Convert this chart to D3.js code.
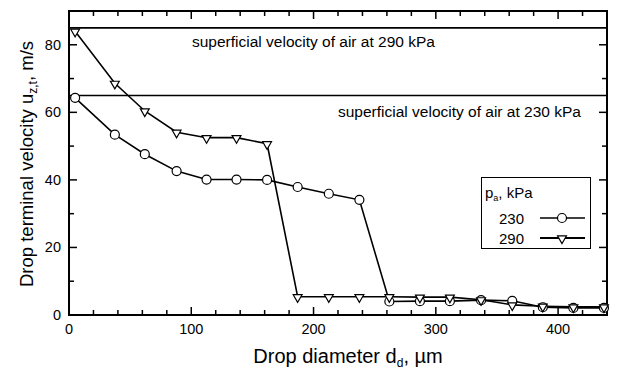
<!DOCTYPE html>
<html>
<head>
<meta charset="utf-8">
<script src="https://cdn.jsdelivr.net/npm/d3@7"></script>
<style>
  html, body { margin: 0; padding: 0; background: #fff; }
  svg { display: block; font-family: "Liberation Sans", Arial, Helvetica, sans-serif; }
</style>
</head>
<body>
<svg id="chart" width="618" height="371"></svg>
<script>
// Drop diameters (µm) at which terminal velocity was evaluated
const diameters = [5, 37.5, 62, 88, 112.5, 137, 162, 187, 212.5, 237.5, 262, 287, 311.5, 337, 362.5, 387.5, 412.5, 437.5];
// Terminal velocity (m/s) at air pressure 230 kPa
const velocity230 = [64.3, 53.4, 47.6, 42.6, 40.1, 40.1, 40.0, 37.9, 35.9, 34.1, 4.0, 4.1, 4.1, 4.4, 4.2, 2.3, 2.1, 2.1];
// Terminal velocity (m/s) at air pressure 290 kPa
const velocity290 = [84.0, 68.6, 60.4, 54.1, 52.5, 52.5, 50.7, 5.4, 5.4, 5.4, 5.4, 5.3, 5.3, 4.5, 3.0, 2.6, 2.4, 2.4];
// Superficial air velocity levels (m/s)
const airVelocity = [
  { p: 290, v: 85, label: "superficial velocity of air at 290 kPa" },
  { p: 230, v: 65, label: "superficial velocity of air at 230 kPa" }
];
const xTicks = [0, 100, 200, 300, 400];
const yTicks = [0, 20, 40, 60, 80];

const svg = d3.select("#chart");
const m = { left: 69, right: 607, top: 11, bottom: 315 };

const x = d3.scaleLinear().domain([0, 440]).range([m.left, m.right]);
const y = d3.scaleLinear().domain([0, 90]).range([m.bottom, m.top]);

const g = svg.append("g");

// Frame
g.append("rect")
  .attr("x", m.left).attr("y", m.top)
  .attr("width", m.right - m.left).attr("height", m.bottom - m.top)
  .attr("fill", "none").attr("stroke", "#000").attr("stroke-width", 2);

// Inward ticks on all four sides
const xMinor = d3.range(0, 441, 20);
const yMinor = d3.range(0, 91, 10);
function tickLen(v, majors) { return majors.includes(v) ? 8 : 5; }

xMinor.forEach(v => {
  const L = tickLen(v, xTicks);
  g.append("line").attr("x1", x(v)).attr("x2", x(v)).attr("y1", m.bottom).attr("y2", m.bottom - L)
    .attr("stroke", "#000").attr("stroke-width", 1.5);
  g.append("line").attr("x1", x(v)).attr("x2", x(v)).attr("y1", m.top).attr("y2", m.top + L)
    .attr("stroke", "#000").attr("stroke-width", 1.5);
});
yMinor.forEach(v => {
  const L = tickLen(v, yTicks);
  g.append("line").attr("x1", m.left).attr("x2", m.left + L).attr("y1", y(v)).attr("y2", y(v))
    .attr("stroke", "#000").attr("stroke-width", 1.5);
  g.append("line").attr("x1", m.right).attr("x2", m.right - L).attr("y1", y(v)).attr("y2", y(v))
    .attr("stroke", "#000").attr("stroke-width", 1.5);
});

// Tick labels
g.selectAll(".xl").data(xTicks).join("text")
  .attr("x", d => x(d)).attr("y", 334)
  .attr("text-anchor", "middle").attr("font-size", 14.5).text(d => d);
g.selectAll(".yl").data(yTicks).join("text")
  .attr("x", 61).attr("y", d => y(d) + 5)
  .attr("text-anchor", "end").attr("font-size", 14.5).text(d => d);

// Superficial air velocity lines
airVelocity.forEach(a => {
  g.append("line").attr("x1", m.left).attr("x2", m.right)
    .attr("y1", y(a.v)).attr("y2", y(a.v))
    .attr("stroke", "#000").attr("stroke-width", 1.6);
});
g.append("text").attr("x", 192).attr("y", 47).attr("font-size", 15.5).text(airVelocity[0].label);
g.append("text").attr("x", 338).attr("y", 117).attr("font-size", 15.5).text(airVelocity[1].label);

// Data series
const line = d3.line().x(d => x(d[0])).y(d => y(d[1]));
const s230 = diameters.map((d, i) => [d, velocity230[i]]);
const s290 = diameters.map((d, i) => [d, velocity290[i]]);

g.append("path").datum(s230).attr("d", line)
  .attr("fill", "none").attr("stroke", "#000").attr("stroke-width", 1.6);
g.append("path").datum(s290).attr("d", line)
  .attr("fill", "none").attr("stroke", "#000").attr("stroke-width", 1.6);

const tri = d3.symbol().type(d3.symbolTriangle).size(34);
function circleMarks(sel, data) {
  sel.selectAll(null).data(data).join("circle")
    .attr("cx", d => x(d[0])).attr("cy", d => y(d[1])).attr("r", 4.5)
    .attr("fill", "#fff").attr("stroke", "#000").attr("stroke-width", 1.2);
}
function triMarks(sel, data) {
  sel.selectAll(null).data(data).join("path")
    .attr("d", tri)
    .attr("transform", d => `translate(${x(d[0])},${y(d[1]) + 0.5}) rotate(180)`)
    .attr("fill", "#fff").attr("stroke", "#000").attr("stroke-width", 1.2);
}
circleMarks(g.append("g"), s230);
triMarks(g.append("g"), s290);

// Legend
const lg = g.append("g");
lg.append("rect").attr("x", 481.5).attr("y", 177.5).attr("width", 109).attr("height", 71)
  .attr("fill", "#fff").attr("stroke", "#000").attr("stroke-width", 1);
const lt = lg.append("text").attr("x", 485).attr("y", 198).attr("font-size", 15);
lt.append("tspan").text("p");
lt.append("tspan").attr("font-size", 9).attr("dy", 3).text("a");
lt.append("tspan").attr("dy", -3).text(", kPa");
const legendRows = [
  { label: "230", y: 218, kind: "circle" },
  { label: "290", y: 238, kind: "tri" }
];
legendRows.forEach(r => {
  lg.append("text").attr("x", 499).attr("y", r.y + 5.5).attr("font-size", 15).text(r.label);
  lg.append("line").attr("x1", 540).attr("x2", 585).attr("y1", r.y).attr("y2", r.y)
    .attr("stroke", "#000").attr("stroke-width", r.kind === "tri" ? 2 : 1.5);
  if (r.kind === "circle") {
    lg.append("circle").attr("cx", 562).attr("cy", r.y).attr("r", 4.5)
      .attr("fill", "#fff").attr("stroke", "#000").attr("stroke-width", 1.2);
  } else {
    lg.append("path").attr("d", tri).attr("transform", `translate(562,${r.y + 0.5}) rotate(180)`)
      .attr("fill", "#fff").attr("stroke", "#000").attr("stroke-width", 1.2);
  }
});

// Axis titles
const xt = svg.append("text").attr("x", 348).attr("y", 363)
  .attr("text-anchor", "middle").attr("font-size", 20);
xt.append("tspan").text("Drop diameter d");
xt.append("tspan").attr("font-size", 12).attr("dy", 4).text("d");
xt.append("tspan").attr("dy", -4).text(", \u00B5m");

const yt = svg.append("text")
  .attr("transform", "translate(33,164) rotate(-90)")
  .attr("text-anchor", "middle").attr("font-size", 18.5);
yt.append("tspan").text("Drop terminal velocity u");
yt.append("tspan").attr("font-size", 12).attr("dy", 4).text("z,t");
yt.append("tspan").attr("dy", -4).text(", m/s");
</script>
</body>
</html>
